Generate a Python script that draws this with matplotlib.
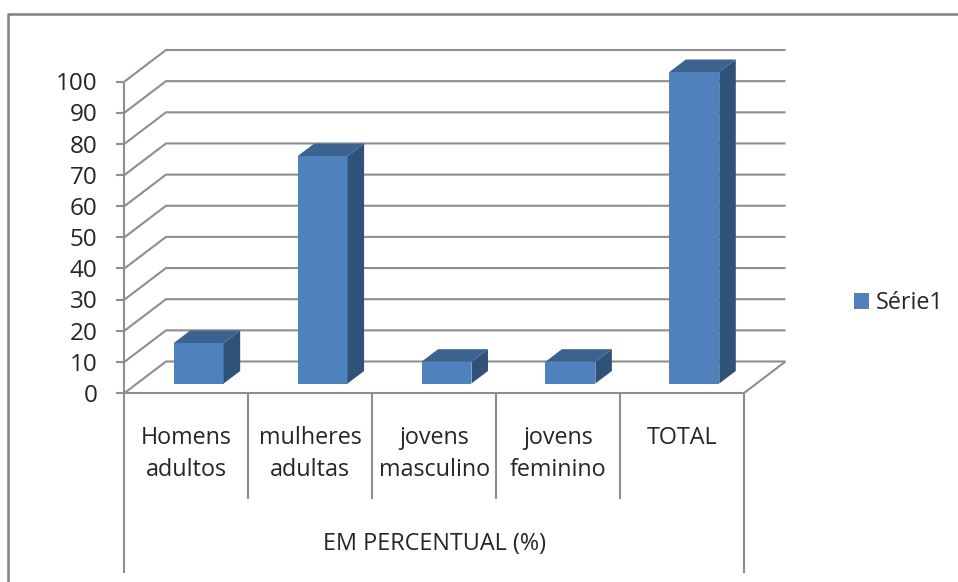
import matplotlib
matplotlib.use('Agg')
import matplotlib.pyplot as plt
from matplotlib.patches import Polygon

categories = ['Homens\nadultos', 'mulheres\nadultas', 'jovens\nmasculino', 'jovens\nfeminino', 'TOTAL']
values = [13, 73, 7, 7, 100]
y_ticks = [0, 10, 20, 30, 40, 50, 60, 70, 80, 90, 100]
group_label = 'EM PERCENTUAL (%)'
series_name = 'Série1'

W, H = 958, 582
# plot box in pixels, front plane of the floor
X0, X1 = 124.5, 744
Y0, Y100 = 393, 81.5

GRAY = '#8e8e8e'
FRONT = '#4f81bd'
SIDE = '#2f5279'
TOP = '#3c628f'
TEXT = '#262626'
FONT = 'Open Sans'
FS = 16.8

# depth of the fake 3d box, in data units
WALL_DX = 41.5 / ((X1 - X0) / 5)
WALL_DY = 31.5 / ((Y0 - Y100) / 100)
BAR_DX = 16.5 / ((X1 - X0) / 5)
BAR_DY = 12.5 / ((Y0 - Y100) / 100)
BAR_SHIFT = 0.099
BAR_LIFT = 9.5 / ((Y0 - Y100) / 100)
BAR_W = 0.403

fig = plt.figure(figsize=(W / 100, H / 100), dpi=100)
ax = fig.add_axes([X0 / W, 1 - Y0 / H, (X1 - X0) / W, (Y0 - Y100) / H])
ax.set_xlim(0, len(categories))
ax.set_ylim(0, 100)
ax.axis('off')

lw = 1.5
px_x = 5 / (X1 - X0)
px_y = 100 / (Y0 - Y100)


def line(xs, ys, **kw):
    ax.plot(xs, ys, color=GRAY, lw=kw.pop('lw', lw), clip_on=False,
            solid_capstyle='butt', zorder=1, **kw)


# outer chart frame (left and top edges only are visible)
fig.add_artist(plt.Line2D([8 / W, 8 / W, 1], [0, 1 - 13.5 / H, 1 - 13.5 / H], color='#808080', lw=1.8))

# walls
for t in y_ticks:
    line([0, WALL_DX, 5 + WALL_DX], [t, t + WALL_DY, t + WALL_DY])
    line([-8 * px_x, 0], [t, t])
line([5, 5 + WALL_DX], [0, WALL_DY])
line([0, 5], [0, 0])
line([0, 0], [100, (Y0 - 572.5) * px_y])
line([5, 5], [0, (Y0 - 572.5) * px_y])
for c in range(1, 5):
    line([c, c], [0, (Y0 - 499) * px_y])

# bars
for i, v in enumerate(values):
    left = i + 0.5 - BAR_W / 2 + BAR_SHIFT
    b = ax.bar(left, v, BAR_W, bottom=BAR_LIFT, align='edge', color=FRONT, zorder=3,
               clip_on=False, label=series_name if i == 0 else None)
    right = left + BAR_W
    top = BAR_LIFT + v
    ax.add_patch(Polygon([(right, BAR_LIFT), (right + BAR_DX, BAR_LIFT + BAR_DY),
                          (right + BAR_DX, top + BAR_DY), (right, top)],
                         closed=True, color=SIDE, zorder=3, clip_on=False, lw=0))
    ax.add_patch(Polygon([(left, top), (left + BAR_DX, top + BAR_DY),
                          (right + BAR_DX, top + BAR_DY), (right, top)],
                         closed=True, color=TOP, zorder=3, clip_on=False, lw=0))

# tick labels
for t in y_ticks:
    ax.text(-27 * px_x, t - 0.9, str(t), ha='right', va='center', fontsize=17.5,
            family=FONT, color=TEXT, clip_on=False)
for i, c in enumerate(categories):
    ax.text(i + 0.5, (Y0 - 426) * px_y, c, ha='center', va='top', fontsize=FS, family=FONT,
            color=TEXT, linespacing=1.42, clip_on=False)
ax.text(2.5, (Y0 - 544) * px_y, group_label, ha='center', va='center', fontsize=FS, family=FONT,
        color=TEXT, clip_on=False)

ax.legend(loc='center left', bbox_to_anchor=(854 / W, 1 - 303 / H), bbox_transform=fig.transFigure,
          frameon=False, handlelength=0.65, handleheight=0.65, handletextpad=0.3,
          borderpad=0, borderaxespad=0, labelcolor=TEXT,
          prop={'family': FONT, 'size': FS})

fig.savefig('out.png', dpi=100)
